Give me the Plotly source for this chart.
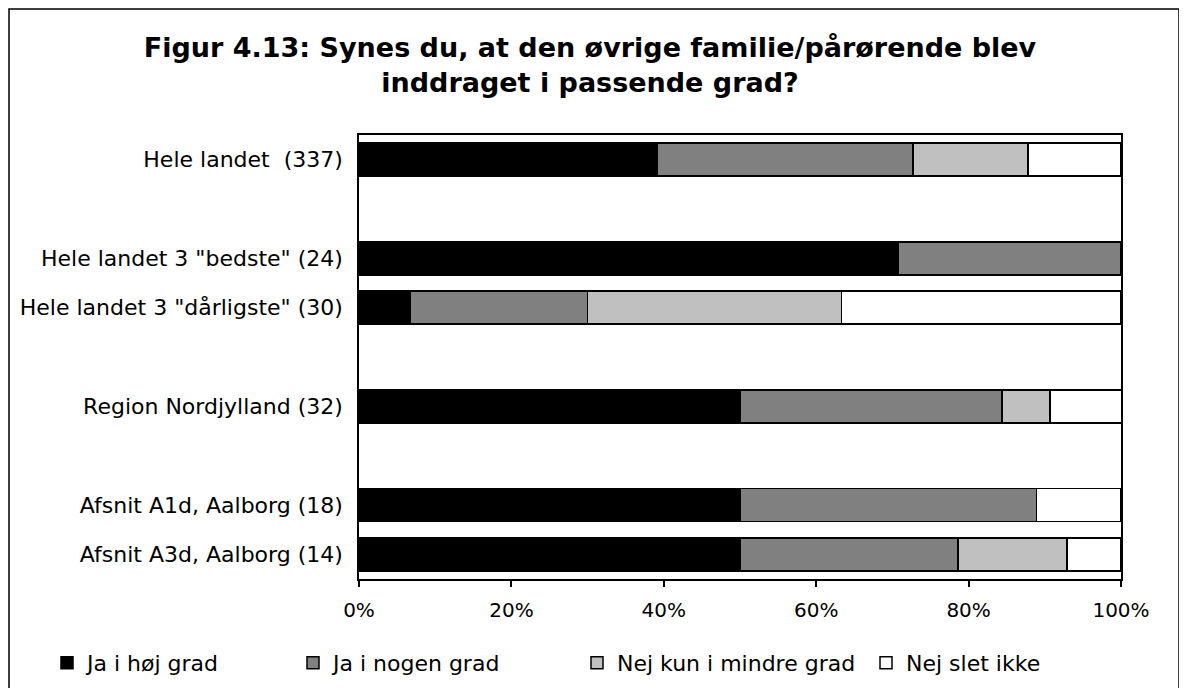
import plotly.graph_objects as go

# -------------------------------------------------------------------
# DATA (percent of respondents, top row first; blank strings = spacer rows)
# -------------------------------------------------------------------
categories = [
    "Hele landet  (337)",
    " ",
    'Hele landet 3 "bedste" (24)',
    'Hele landet 3 "dårligste" (30)',
    "  ",
    "Region Nordjylland (32)",
    "   ",
    "Afsnit A1d, Aalborg (18)",
    "Afsnit A3d, Aalborg (14)",
]
ja_hoej = [39.2, None, 70.8, 6.7, None, 50.0, None, 50.0, 50.0]
ja_nogen = [33.5, None, 29.2, 23.3, None, 34.4, None, 38.9, 28.6]
nej_mindre = [15.1, None, 0, 33.3, None, 6.3, None, 0, 14.3]
nej_slet = [12.2, None, 0, 36.7, None, 9.4, None, 11.1, 7.1]

series_names = ["Ja i høj grad", "Ja i nogen grad", "Nej kun i mindre grad", "Nej slet ikke"]
series_values = [ja_hoej, ja_nogen, nej_mindre, nej_slet]
tick_vals = [0, 20, 40, 60, 80, 100]
tick_text = ["0%", "20%", "40%", "60%", "80%", "100%"]

# -------------------------------------------------------------------
# STYLE / GEOMETRY (pixel positions are screen positions; page body has 8px margin)
# -------------------------------------------------------------------
COLORS = ["#000000", "#808080", "#c0c0c0", "#ffffff"]
FONT = "DejaVu Sans, Verdana, sans-serif"
PAGE_OFF = 8
W, H = 1187, 688
L, T = 359 - PAGE_OFF, 135 - PAGE_OFF
R, B = W - (1121 - PAGE_OFF), H - (579 - PAGE_OFF)
PW, PH = W - L - R, H - T - B

# legend item text start (screen px) for each series
LEGEND_TEXT_X = [87, 333, 617, 906]
LEGEND_Y = 663


def px_to_paper_x(px):
    return (px - PAGE_OFF - L) / PW


def px_to_paper_y(py):
    return (H - B - (py - PAGE_OFF)) / PH


fig = go.Figure()

for i, (name, vals) in enumerate(zip(series_names, series_values)):
    fig.add_trace(
        go.Bar(
            name=name,
            y=categories,
            x=vals,
            orientation="h",
            marker=dict(color=COLORS[i], line=dict(color="black", width=1.5)),
            legend="legend" if i == 0 else f"legend{i + 1}",
            hovertemplate="%{y}: %{x}%<extra>" + name + "</extra>",
        )
    )

# one legend per item so the spacing matches the original
legends = {}
for i, tx in enumerate(LEGEND_TEXT_X):
    key = "legend" if i == 0 else f"legend{i + 1}"
    legends[key] = dict(
        x=px_to_paper_x(tx - 40),
        y=px_to_paper_y(LEGEND_Y),
        xanchor="left",
        yanchor="middle",
        orientation="h",
        font=dict(family=FONT, size=22, color="black"),
        bgcolor="rgba(0,0,0,0)",
        itemwidth=30,
    )

# outer chart frame (top/left edges sit at the page edge)
fig.add_shape(
    type="rect",
    xref="paper",
    yref="paper",
    x0=px_to_paper_x(PAGE_OFF + 1),
    x1=px_to_paper_x(1179),
    y0=px_to_paper_y(720),
    y1=px_to_paper_y(PAGE_OFF + 1),
    line=dict(color="black", width=1.5),
    layer="below",
)

fig.update_layout(
    width=W,
    height=H,
    showlegend=True,
    barmode="stack",
    bargap=0.33,
    margin=dict(l=L, r=R, t=T, b=B, autoexpand=False),
    plot_bgcolor="white",
    paper_bgcolor="white",
    font=dict(family=FONT, size=20, color="black"),
    title=dict(
        text="Figur 4.13: Synes du, at den øvrige familie/pårørende blev<br>inddraget i passende grad?",
        x=(590 - PAGE_OFF) / W,
        xanchor="center",
        y=1 - (57 - PAGE_OFF) / H,
        yanchor="top",
        font=dict(family=FONT, size=27, color="black", weight="bold"),
    ),
    xaxis=dict(
        range=[0, 100],
        tickvals=tick_vals,
        ticktext=tick_text,
        ticks="outside",
        ticklen=6,
        tickcolor="black",
        tickwidth=1.5,
        showgrid=False,
        zeroline=False,
        showline=True,
        linecolor="black",
        linewidth=1.5,
        mirror=True,
        ticklabelstandoff=6,
        tickfont=dict(family=FONT, size=20, color="black"),
    ),
    yaxis=dict(
        categoryorder="array",
        categoryarray=categories,
        autorange="reversed",
        showgrid=False,
        zeroline=False,
        showline=True,
        linecolor="black",
        linewidth=1.5,
        mirror=True,
        ticks="",
        ticklabelstandoff=10,
        tickfont=dict(family=FONT, size=22, color="black"),
    ),
    **legends,
)

fig.write_html("out.html")
